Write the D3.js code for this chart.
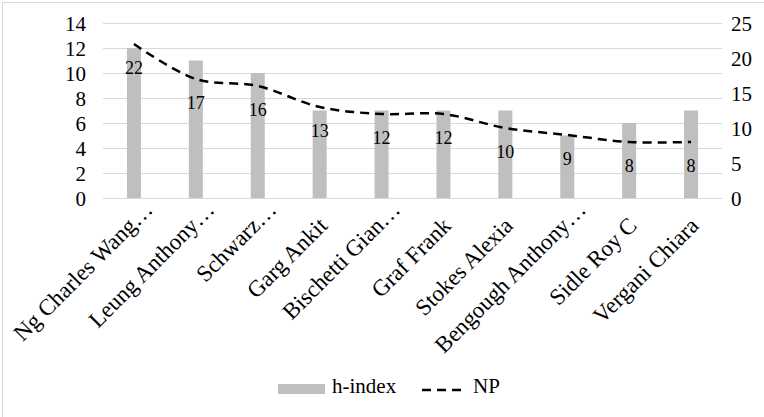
<!DOCTYPE html>
<html>
<head>
<meta charset="utf-8">
<script src="https://cdn.jsdelivr.net/npm/d3@7"></script>
<style>
  html, body { margin: 0; padding: 0; background: #fff; }
  svg { display: block; }
  svg text { font-family: 'Liberation Serif', 'Tinos', 'DejaVu Serif', serif !important; fill: #000; }
</style>
</head>
<body>
<svg id="chart" width="764" height="417"></svg>
<script>
const categories = ["Ng Charles Wang…", "Leung Anthony…", "Schwarz…", "Garg Ankit", "Bischetti Gian…",
  "Graf Frank", "Stokes Alexia", "Bengough Anthony…", "Sidle Roy C", "Vergani Chiara"];
const hIndex = [12, 11, 10, 7, 7, 7, 7, 5, 6, 7];
const np = [22, 17, 16, 13, 12, 12, 10, 9, 8, 8];
const leftTicks = [0, 2, 4, 6, 8, 10, 12, 14];
const rightTicks = [0, 5, 10, 15, 20, 25];
const seriesNames = ["h-index", "NP"];

const FONT = "'Liberation Serif', 'Tinos', 'DejaVu Serif', serif";
const svg = d3.select("#chart");
const plot = { left: 103, right: 722, top: 23, bottom: 198 };

// chart border
svg.append("rect").attr("x", 2.5).attr("y", 2.5).attr("width", 800).attr("height", 500)
  .attr("fill", "#fff").attr("stroke", "#d9d9d9").attr("stroke-width", 1);

const x = d3.scaleBand().domain(categories).range([plot.left, plot.right])
  .paddingInner(0.774).paddingOuter(0.387);
const cx = d => x(d) + x.bandwidth() / 2;
const yL = d3.scaleLinear().domain([0, 14]).range([plot.bottom, plot.top]);
const yR = d3.scaleLinear().domain([0, 25]).range([plot.bottom, plot.top]);

// gridlines
svg.append("g").selectAll("line").data(leftTicks).join("line")
  .attr("x1", plot.left).attr("x2", plot.right)
  .attr("y1", d => Math.round(yL(d)) + 0.5).attr("y2", d => Math.round(yL(d)) + 0.5)
  .attr("stroke", "#d9d9d9").attr("stroke-width", 1.2);

// left axis
const axL = d3.axisLeft(yL).tickValues(leftTicks).tickSize(0).tickPadding(0);
const gL = svg.append("g").attr("transform", `translate(86,0)`).call(axL);
gL.attr("font-family", FONT);
gL.select(".domain").remove();
gL.selectAll("text").attr("font-size", 21).attr("fill", "#000").attr("dy", "0.34em");

// right axis
const axR = d3.axisRight(yR).tickValues(rightTicks).tickSize(0).tickPadding(0);
const gR = svg.append("g").attr("transform", `translate(731,0)`).call(axR);
gR.attr("font-family", FONT);
gR.select(".domain").remove();
gR.selectAll("text").attr("font-size", 21).attr("fill", "#000").attr("dy", "0.34em");

// bars
svg.append("g").selectAll("rect").data(categories).join("rect")
  .attr("x", d => x(d)).attr("width", x.bandwidth())
  .attr("y", (d, i) => yL(hIndex[i])).attr("height", (d, i) => yL(0) - yL(hIndex[i]))
  .attr("fill", "#bfbfbf");

// NP line
const pts = categories.map((c, i) => [cx(c), yR(np[i])]);
svg.append("path").datum(pts)
  .attr("d", d3.line().curve(d3.curveCatmullRom.alpha(0.5)))
  .attr("fill", "none").attr("stroke", "#000").attr("stroke-width", 2.5)
  .attr("stroke-dasharray", "9,6");

// data labels
svg.append("g").attr("font-family", FONT).selectAll("text").data(categories).join("text")
  .attr("x", d => cx(d)).attr("y", (d, i) => yR(np[i]) + 30)
  .attr("text-anchor", "middle").attr("font-size", 18)
  .text((d, i) => np[i]);

// x labels
svg.append("g").attr("font-family", FONT).selectAll("text").data(categories).join("text")
  .attr("transform", d => {
    const trunc = d.endsWith("…");
    const px = cx(d) + (trunc ? 20 : 9);
    const py = trunc ? 211 : 227;
    return `translate(${px},${py}) rotate(-45)`;
  })
  .attr("text-anchor", "end").attr("font-size", 23)
  .text(d => d);

// legend
const lg = svg.append("g").attr("font-family", FONT);
lg.append("rect").attr("x", 278).attr("y", 384).attr("width", 47).attr("height", 10).attr("fill", "#bfbfbf");
lg.append("text").attr("x", 332).attr("y", 393).attr("font-size", 21).text(seriesNames[0]);
lg.append("line").attr("x1", 422).attr("x2", 465).attr("y1", 390).attr("y2", 390)
  .attr("stroke", "#000").attr("stroke-width", 2.5).attr("stroke-dasharray", "9,6");
lg.append("text").attr("x", 473).attr("y", 393).attr("font-size", 21).text(seriesNames[1]);
</script>
</body>
</html>
